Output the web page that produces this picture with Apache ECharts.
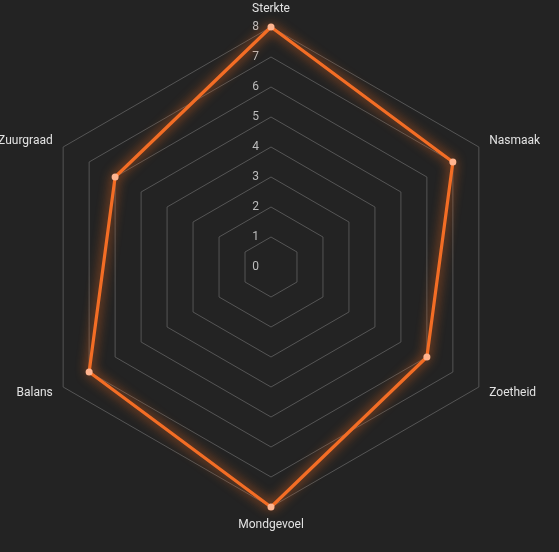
<!DOCTYPE html>
<html><head><meta charset="utf-8">
<script src="https://cdn.jsdelivr.net/npm/echarts@6/dist/echarts.min.js"></script>
<style>html,body{margin:0;padding:0;background:#232323;}#c{width:559px;height:552px;}</style>
</head><body><div id="c"></div>
<script>
// indicators listed counter-clockwise starting at the top (ECharts radar order)
const indicators = ['Sterkte', 'Zuurgraad', 'Balans', 'Mondgevoel', 'Zoetheid', 'Nasmaak'];
const maxValue = 8;
const values = [8, 6, 7, 8, 6, 7];

const chart = echarts.init(document.getElementById('c'), null, {renderer: 'canvas'});
chart.setOption({
  backgroundColor: '#232323',
  textStyle: {fontFamily: 'Roboto, sans-serif'},
  radar: {
    center: [271, 267],
    radius: 240,
    startAngle: 90,
    shape: 'polygon',
    splitNumber: 8,
    indicator: indicators.map((n, i) => {
      const o = {name: n, min: 0, max: maxValue};
      if (i === 0) o.axisLabel = {show: true};
      return o;
    }),
    axisName: {color: '#e2e2e2', fontSize: 12, fontFamily: 'Roboto, sans-serif'},
    nameGap: 12,
    axisLine: {show: false},
    axisTick: {show: false},
    axisLabel: {show: false, color: '#bdbdbd', fontSize: 12, showMinLabel: true, showMaxLabel: true, margin: 12},
    splitLine: {lineStyle: {color: '#555555', width: 1}},
    splitArea: {show: false}
  },
  series: [{
    type: 'radar',
    symbol: 'circle',
    symbolSize: 7,
    lineStyle: {color: '#f36d25', width: 3.2, shadowBlur: 12, shadowColor: 'rgba(255,110,30,1)'},
    itemStyle: {color: '#ffb48f', borderWidth: 0},
    data: [{value: values, name: 'Profiel'}]
  }]
});
</script></body></html>
